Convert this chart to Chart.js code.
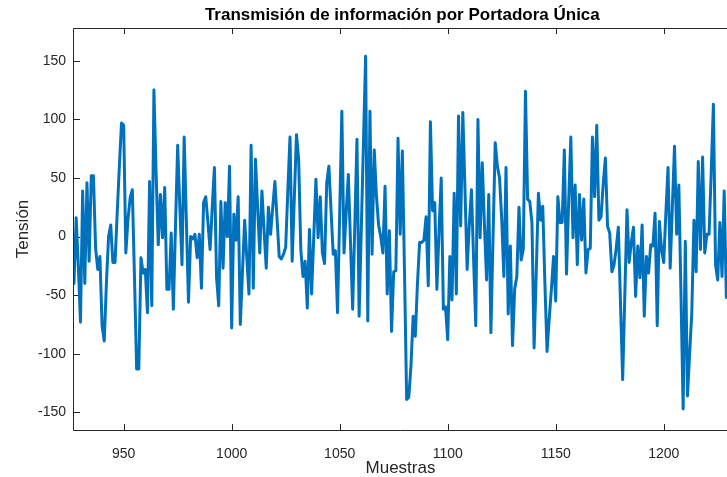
<!DOCTYPE html>
<html>
<head>
<meta charset="utf-8">
<script src="https://cdn.jsdelivr.net/npm/chart.js@4.4.1/dist/chart.umd.min.js"></script>
<style>
  html, body { margin: 0; padding: 0; background: #fff; }
  #grafico { display: block; }
</style>
</head>
<body>
<canvas id="grafico" width="727" height="477"></canvas>
<script>
const titulo = 'Transmisión de información por Portadora Única'
const etiquetaX = 'Muestras'
const etiquetaY = 'Tensión'

// muestras 927 ... 1230
const primeraMuestra = 927
const tension = [
  -40, 16, -25, -73, 39, -40, 46, -21, 52, 52,
  -10, -28, -17, -76, -89, -40, 0, 10, -22, -22,
  20, 60, 97, 95, -14, 15, 33, 40, -35, -113,
  -113, -18, -31, -28, -65, 47, -59, 125, 55, -7,
  36, -1, 42, -45, -45, 3, -62, 10, 78, 25,
  -24, 85, 15, -56, 0, -2, 2, -18, 2, -44,
  29, 34, 12, -11, 25, 59, -35, -59, 30, -27,
  29, 0, 60, -78, 19, -3, 34, -75, -30, 14,
  -18, -49, 78, -44, 66, 25, -14, 39, 5, -27,
  25, 2, 25, 47, 15, -17, -19, -15, -9, 40,
  85, -21, 33, 87, 66, -11, -34, -21, -61, 6,
  -49, 0, 49, -1, 34, -14, -23, 46, 60, 22,
  -15, -12, -65, 20, 107, -14, 20, 53, -5, -62,
  10, 83, -68, 6, 80, 154, -72, 107, -15, 74,
  35, 10, 0, -14, 43, -49, 5, -81, -30, -29,
  84, 2, 73, -30, -139, -137, -110, -68, -85, -40,
  -5, -5, -3, 17, -42, 98, 22, 29, -45, 5,
  50, -62, -60, -88, -17, -54, 37, -49, 103, 9,
  106, 40, -28, 10, 40, -20, -76, 100, -1, 63,
  10, -37, 36, -82, 0, 80, 60, 50, 15, -34,
  59, -66, -8, -93, -45, -34, 25, -20, -11, 124,
  32, 30, 12, -95, -30, 37, 14, 26, -40, -98,
  -70, -45, -17, -55, 34, 12, 12, 74, -32, 30,
  85, -1, 44, -24, 36, -3, 32, -31, -11, -10,
  85, 34, 95, 14, 17, 45, 67, 9, 3, -30,
  -24, -10, 8, -57, -122, -50, 23, -22, -5, 8,
  -51, -8, -35, 10, -68, -17, -31, -7, -8, 20,
  -76, 13, -11, -22, 20, 59, -27, 25, 77, 2,
  44, -50, -147, -4, -136, -100, -65, 14, -30, 64,
  -11, 68, -14, 2, 2, 55, 113, -24, -37, 12,
  -34, 39, -52, -20
]
const ticksX = [950, 1000, 1050, 1100, 1150, 1200]
const ticksY = [-150, -100, -50, 0, 50, 100, 150]
// el eje de la figura original llega hasta 1231, el recorte se queda en 1229.3
const limitesX = [927, 1229.3]
const finEjeX = 1231
const limitesY = [-165, 178]

const colorLinea = '#0072BD'
const colorEjes = '#262626'
const fuente = '"Liberation Sans", Arial, sans-serif'

const puntos = tension.map((v, i) => ({ x: primeraMuestra + i, y: v }))

// caja de ejes con marcas hacia dentro (estilo MATLAB)
const cajaEjes = {
  id: 'cajaEjes',
  beforeDatasetsDraw (chart) {
    const { ctx, chartArea: { left, right, top, bottom } } = chart
    const { x, y } = chart.scales
    ctx.save()
    ctx.strokeStyle = colorEjes
    ctx.lineWidth = 1
    ctx.beginPath()
    ctx.moveTo(right, top + 0.5)
    ctx.lineTo(left - 0.5, top + 0.5)
    ctx.lineTo(left - 0.5, bottom + 0.5)
    ctx.lineTo(right, bottom + 0.5)
    x.ticks.forEach((t) => {
      const px = Math.round(x.getPixelForValue(t.value)) + 0.5
      ctx.moveTo(px, bottom)
      ctx.lineTo(px, bottom - 6)
      ctx.moveTo(px, top)
      ctx.lineTo(px, top + 6)
    })
    y.ticks.forEach((t) => {
      const py = Math.round(y.getPixelForValue(t.value)) + 0.5
      ctx.moveTo(left, py)
      ctx.lineTo(left + 6, py)
    })
    ctx.stroke()
    ctx.restore()
  },
  afterDraw (chart) {
    const { ctx, chartArea: { left } } = chart
    const centro = (left + chart.scales.x.getPixelForValue(finEjeX)) / 2
    ctx.save()
    ctx.fillStyle = '#000'
    ctx.font = 'bold 17px ' + fuente
    ctx.textAlign = 'center'
    ctx.textBaseline = 'middle'
    ctx.fillText(titulo, centro, 15)
    ctx.restore()
  }
}

new Chart(document.getElementById('grafico'), {
  type: 'line',
  data: {
    datasets: [{
      data: puntos,
      borderColor: colorLinea,
      borderWidth: 3,
      borderJoinStyle: 'round',
      borderCapStyle: 'round',
      pointRadius: 0,
      tension: 0,
      fill: false
    }]
  },
  options: {
    responsive: false,
    animation: false,
    devicePixelRatio: 1,
    layout: { padding: { top: 28, right: 0, left: 0, bottom: 0 } },
    plugins: {
      legend: { display: false },
      tooltip: { enabled: false },
      title: { display: false }
    },
    scales: {
      x: {
        type: 'linear',
        min: limitesX[0],
        max: limitesX[1],
        grid: { display: false, drawTicks: false },
        border: { display: false },
        afterBuildTicks: (s) => { s.ticks = ticksX.map((v) => ({ value: v })) },
        afterFit: (s) => { s.height = 47 },
        ticks: {
          color: colorEjes,
          font: { family: fuente, size: 14 },
          padding: 16,
          maxRotation: 0,
          callback: (v) => v
        },
        title: {
          display: true,
          text: etiquetaX,
          color: colorEjes,
          font: { family: fuente, size: 17 },
          padding: { top: 0, bottom: -2 }
        }
      },
      y: {
        type: 'linear',
        min: limitesY[0],
        max: limitesY[1],
        grid: { display: false, drawTicks: false },
        border: { display: false },
        afterBuildTicks: (s) => { s.ticks = ticksY.map((v) => ({ value: v })) },
        afterFit: (s) => { s.width = 74 },
        ticks: {
          color: colorEjes,
          font: { family: fuente, size: 14 },
          padding: 8,
          callback: (v) => v
        },
        title: {
          display: true,
          text: etiquetaY,
          color: colorEjes,
          font: { family: fuente, size: 17 },
          padding: { top: 13, bottom: 0 }
        }
      }
    }
  },
  plugins: [cajaEjes]
})
</script>
</body>
</html>
